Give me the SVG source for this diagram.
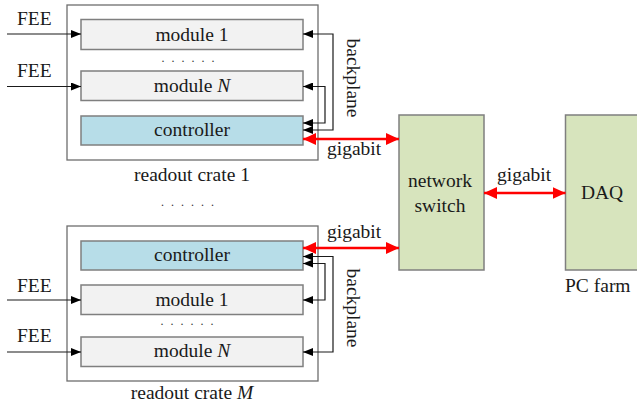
<svg xmlns="http://www.w3.org/2000/svg" width="637" height="406" viewBox="0 0 637 406">
<style>
text{font-family:"Liberation Serif","Times New Roman",serif;font-size:19.5px;fill:#1a1a1a}
.mid{text-anchor:middle}
.crate{fill:#fff;stroke:#6e6e6e;stroke-width:1.3}
.mod{fill:#f2f2f2;stroke:#7f7f7f;stroke-width:1.5}
.ctl{fill:#b7dde8;stroke:#7f7f7f;stroke-width:1.5}
.big{fill:#d7e4bd;stroke:#7f7f7f;stroke-width:1.5}
.bl{fill:none;stroke:#1a1a1a;stroke-width:1.2;marker-end:url(#ah)}
.bp{fill:none;stroke:#1a1a1a;stroke-width:1.2;marker-start:url(#ah);marker-end:url(#ah)}
.red{fill:none;stroke:#ff0000;stroke-width:2.5;marker-start:url(#rh);marker-end:url(#rh)}
.dots{font-size:12px;letter-spacing:7px;fill:#333}
</style>
<defs>
<marker id="ah" markerUnits="userSpaceOnUse" markerWidth="10" markerHeight="8" refX="10" refY="4" orient="auto-start-reverse"><path d="M0,0 L10,4 L0,8 z" fill="#000"/></marker>
<marker id="rh" markerUnits="userSpaceOnUse" markerWidth="13" markerHeight="12" refX="13" refY="6" orient="auto-start-reverse"><path d="M0,0 L13,6 L0,12 z" fill="#ff0000"/></marker>
</defs>

<g id="crate1">
<rect class="crate" x="67" y="5" width="251" height="155"/>
<text class="mid" x="192" y="181">readout crate 1</text>
</g>
<g id="c1-module1"><rect class="mod" x="81" y="19.5" width="222" height="30"/><text class="mid" x="192" y="40.5">module 1</text></g>
<text class="dots" x="161.5" y="61.5">......</text>
<g id="c1-moduleN"><rect class="mod" x="81" y="71" width="222" height="29.5"/><text class="mid" x="192" y="91.5">module <tspan font-style="italic">N</tspan></text></g>
<g id="c1-controller"><rect class="ctl" x="81" y="116" width="222" height="29"/><text class="mid" x="192" y="136">controller</text></g>
<text x="17" y="25">FEE</text>
<text x="17" y="77">FEE</text>
<text transform="translate(347,78) rotate(90)" class="mid">backplane</text>

<text class="dots" x="161" y="205.5">......</text>

<g id="crateM">
<rect class="crate" x="67" y="226" width="251" height="155"/>
<text class="mid" x="192" y="399">readout crate <tspan font-style="italic">M</tspan></text>
</g>
<g id="cM-controller"><rect class="ctl" x="81" y="241" width="222" height="29"/><text class="mid" x="192" y="261">controller</text></g>
<g id="cM-module1"><rect class="mod" x="81" y="285" width="222" height="29.5"/><text class="mid" x="192" y="305.5">module 1</text></g>
<text class="dots" x="160.5" y="324.5">......</text>
<g id="cM-moduleN"><rect class="mod" x="81" y="337" width="222" height="29.5"/><text class="mid" x="192" y="357">module <tspan font-style="italic">N</tspan></text></g>
<text x="17" y="292">FEE</text>
<text x="17" y="342">FEE</text>
<text transform="translate(347,308) rotate(90)" class="mid">backplane</text>

<g id="switch"><rect class="big" x="399" y="115" width="85" height="155"/><text class="mid" x="440" y="187">network</text><text class="mid" x="440" y="211.5">switch</text></g>
<g id="daq"><rect class="big" x="565.5" y="115" width="80" height="155"/><text class="mid" x="602" y="199">DAQ</text><text x="565" y="292">PC farm</text></g>

<g id="connectors">
<path class="bl" d="M7,34 H81"/>
<path class="bl" d="M7,86.5 H81"/>
<path class="bl" d="M7,300 H81"/>
<path class="bl" d="M7,352 H81"/>
<path class="bp" d="M303,130 H333 V34 H303"/>
<path class="bp" d="M303,123 H325 V86.5 H303"/>
<path class="bp" d="M303,256.5 H333 V352 H303"/>
<path class="bp" d="M303,263.5 H325 V300 H303"/>
<path class="red" d="M303,139 H399"/>
<path class="red" d="M303,248 H399"/>
<path class="red" d="M484,193 H565.5"/>
<text x="327" y="155">gigabit</text>
<text x="327" y="238">gigabit</text>
<text x="497" y="180.5">gigabit</text>
</g>
</svg>
